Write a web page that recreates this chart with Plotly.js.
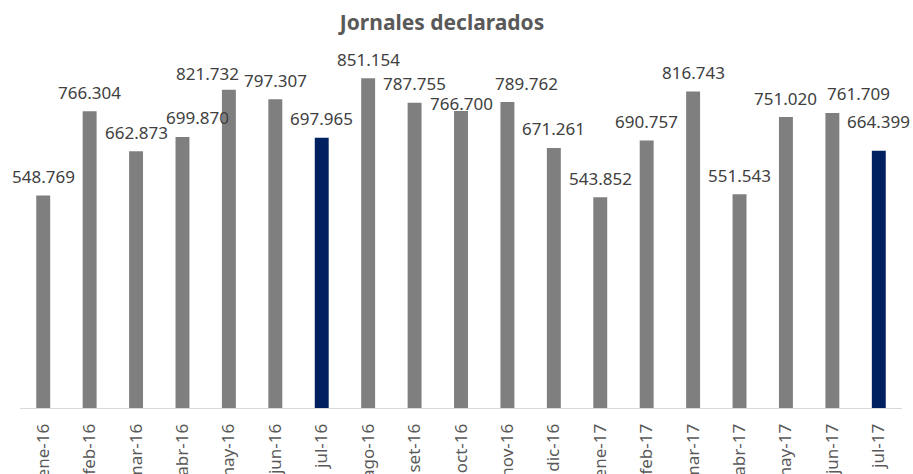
<!DOCTYPE html>
<html>
<head>
<meta charset="utf-8">
<script src="https://cdn.plot.ly/plotly-3.0.1.min.js"></script>
<style>html,body{margin:0;padding:0;background:#fff;}#chart{width:913px;height:474px;}</style>
</head>
<body>
<div id="chart"></div>
<script>
const months = ["ene-16","feb-16","mar-16","abr-16","may-16","jun-16","jul-16","ago-16","set-16","oct-16","nov-16","dic-16","ene-17","feb-17","mar-17","abr-17","may-17","jun-17","jul-17"];
const jornales = [548769,766304,662873,699870,821732,797307,697965,851154,787755,766700,789762,671261,543852,690757,816743,551543,751020,761709,664399];
const highlighted = ["jul-16","jul-17"];

// label placement tweaks (style only)
const labelXShift = {4:-21, 3:15, 10:19, 17:26};
const labelYShift = {9:8, 18:29, 4:16};

const grayColor = "#7f7f7f", navyColor = "#002060";
const colors = months.map(m => highlighted.includes(m) ? navyColor : grayColor);

function fmt(v){ return String(v).replace(/\B(?=(\d{3})+(?!\d))/g, "."); }

const annotations = months.map((m,i) => ({
  x: m, y: jornales[i], xref:"x", yref:"y",
  text: fmt(jornales[i]), showarrow:false,
  xanchor:"center", yanchor:"middle",
  xshift: labelXShift[i] || 0,
  yshift: (labelYShift[i] !== undefined ? labelYShift[i] : 19),
  font:{family:"Noto Sans, Open Sans, sans-serif", size:17, color:"#404040"}
}));

const trace = {
  type:"bar", x: months, y: jornales,
  marker:{color: colors, line:{width:0}},
  width: 0.3, hoverinfo:"x+y"
};

const layout = {
  width:913, height:474,
  margin:{l:20, r:11, t:40, b:66},
  paper_bgcolor:"#ffffff", plot_bgcolor:"#ffffff",
  title:{text:"<b>Jornales declarados</b>", x:442/913, xref:"container", xanchor:"center",
         y:1-23/474, yref:"container", yanchor:"middle",
         font:{family:"Noto Sans, Open Sans, sans-serif", size:21, color:"#595959"}},
  showlegend:false,
  xaxis:{type:"category", tickangle:-90, showgrid:false, zeroline:false,
         showline:true, linecolor:"#d9d9d9", linewidth:1, ticks:"",
         ticklabelstandoff:8,
         tickfont:{family:"Noto Sans, Open Sans, sans-serif", size:17, color:"#595959"},
         range:[-0.5,18.5], fixedrange:true},
  yaxis:{range:[0,950000], visible:false, showgrid:false, zeroline:false, fixedrange:true},
  annotations: annotations
};

Plotly.newPlot("chart",[trace],layout,{displayModeBar:false, staticPlot:true});
</script>
</body>
</html>
